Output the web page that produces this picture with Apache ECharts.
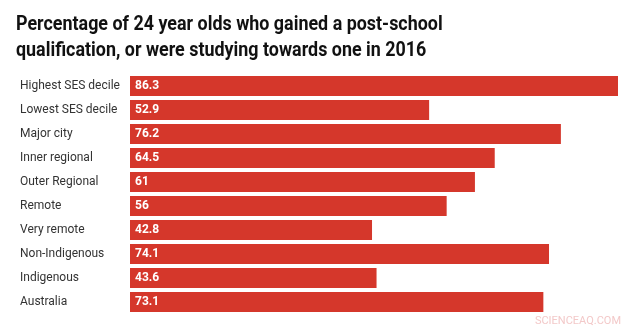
<!DOCTYPE html>
<html><head><meta charset="utf-8">
<script src="https://cdn.jsdelivr.net/npm/echarts@6/dist/echarts.min.js"></script>
<style>html,body{margin:0;padding:0;background:#fff}#c{width:637px;height:329px}</style>
</head><body><div id="c"></div>
<script>
const categories = ["Highest SES decile","Lowest SES decile","Major city","Inner regional","Outer Regional","Remote","Very remote","Non-Indigenous","Indigenous","Australia"];
const values = [86.3,52.9,76.2,64.5,61,56,42.8,74.1,43.6,73.1];
const titleText = "Percentage of 24 year olds who gained a post-school\nqualification, or were studying towards one in 2016";

const chart = echarts.init(document.getElementById('c'), null, {renderer:'canvas'});
chart.setOption({
  animation:false,
  backgroundColor:'#fff',
  grid:{left:130,right:19,top:74,bottom:15,containLabel:false},
  xAxis:{type:'value',min:0,max:86.3,show:false},
  yAxis:{type:'category',data:categories,inverse:true,
    axisLine:{show:false},axisTick:{show:false},splitLine:{show:false},
    axisLabel:{align:'left',margin:110,fontFamily:'Roboto',fontSize:12,color:'#333'}},
  series:[{type:'bar',data:values,barWidth:20,itemStyle:{color:'#d5372b'},
    label:{show:true,position:'insideLeft',distance:5,color:'#fff',fontFamily:'Roboto',fontWeight:'bold',fontSize:12}}],
  graphic:[
    {type:'text',x:16,y:12,scaleX:0.895,style:{text:titleText,fontFamily:'Roboto',fontWeight:'bold',fontSize:20,lineHeight:26,fill:'#111',textVerticalAlign:'top'}},
    {type:'text',right:16,bottom:2,style:{text:'SCIENCEAQ.COM',fontFamily:'Roboto',fontSize:11,fill:'#f3c9c9'}}
  ]
});
</script></body></html>
